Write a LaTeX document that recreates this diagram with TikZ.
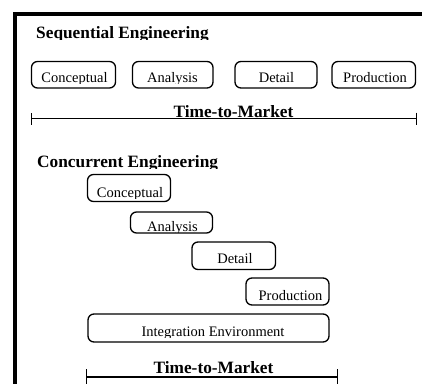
\documentclass[tikz,border=0pt]{standalone}
\usepackage{fontspec}
\setmainfont{Liberation Serif}
\usetikzlibrary{arrows.meta}

% A label set on its baseline, with everything below the baseline cut away
\newcommand\cutlabel[5]{%
  \begin{scope}
    \clip (#2-250,#3-40) rectangle (#2+250,#3+1.2);
    \node[#4] (#1) at (#2,#3) {#5};
  \end{scope}}

\begin{document}
\begin{tikzpicture}[x=1pt,y=-1pt,
    frame/.style={line width=4pt, line join=miter},
    phase/.style={draw, rounded corners=6pt, line width=1.3pt, inner sep=0pt},
    phasetext/.style={anchor=base, inner sep=0pt, font=\fontsize{14.5}{17}\selectfont},
    heading/.style={anchor=base west, inner sep=0pt, font=\fontsize{17.3}{20}\selectfont\bfseries},
    ttm/.style={anchor=base, inner sep=0pt, font=\fontsize{17.3}{20}\selectfont\bfseries},
    span/.style={line width=1.3pt}]
  \useasboundingbox (0,0) rectangle (422,383);

  % outer frame (top and left edges)
  \coordinate (fbl) at (14.5,390);
  \coordinate (ftl) at (14.5,14);
  \coordinate (ftr) at (430,14);
  \draw[frame] (fbl) -- (ftl) -- (ftr);

  % ---- Sequential engineering ----
  \cutlabel{seqhead}{36}{38}{heading}{Sequential Engineering}

  \node[phase, minimum width=84, minimum height=26.5] (sc) at (73.5,74.75) {};
  \node[phase, minimum width=80.5, minimum height=26.5] (sa) at (172.75,74.75) {};
  \node[phase, minimum width=82, minimum height=26.5] (sd) at (276,74.75) {};
  \node[phase, minimum width=83.5, minimum height=26.5] (sp) at (373.75,74.75) {};
  \cutlabel{sct}{74.5}{82}{phasetext}{Conceptual}
  \cutlabel{sat}{172.5}{82}{phasetext}{Analysis}
  \cutlabel{sdt}{276.5}{82}{phasetext}{Detail}
  \cutlabel{spt}{375}{82}{phasetext}{Production}

  \node[ttm] (seqttm) at (233.5,117) {Time-to-Market};
  \coordinate (s1) at (31,118.5);
  \coordinate (s2) at (417,118.5);
  \draw[span, {Bar[width=12pt]}-{Bar[width=12pt]}] (s1) -- (s2);

  % ---- Concurrent engineering ----
  \cutlabel{conhead}{37}{167}{heading}{Concurrent Engineering}

  \node[phase, minimum width=83, minimum height=27] (cc) at (129,188) {};
  \node[phase, minimum width=82, minimum height=21] (ca) at (171.5,222.5) {};
  \node[phase, minimum width=83.5, minimum height=27.5] (cd) at (233.75,255.75) {};
  \node[phase, minimum width=83, minimum height=27] (cp) at (287.5,291.5) {};
  \node[phase, minimum width=241, minimum height=28] (ci) at (208.5,328) {};
  \cutlabel{cct}{130}{197}{phasetext}{Conceptual}
  \cutlabel{cat}{172.5}{231}{phasetext}{Analysis}
  \cutlabel{cdt}{235}{263}{phasetext}{Detail}
  \cutlabel{cpt}{290.5}{300}{phasetext}{Production}
  \cutlabel{cit}{213}{336}{phasetext}{Integration Environment}

  \node[ttm] (conttm) at (213.5,373) {Time-to-Market};
  \coordinate (c1) at (86,377);
  \coordinate (c2) at (338,377);
  \draw[span, {Bar[width=16pt]}-{Bar[width=16pt]}] (c1) -- (c2);
\end{tikzpicture}
\end{document}
